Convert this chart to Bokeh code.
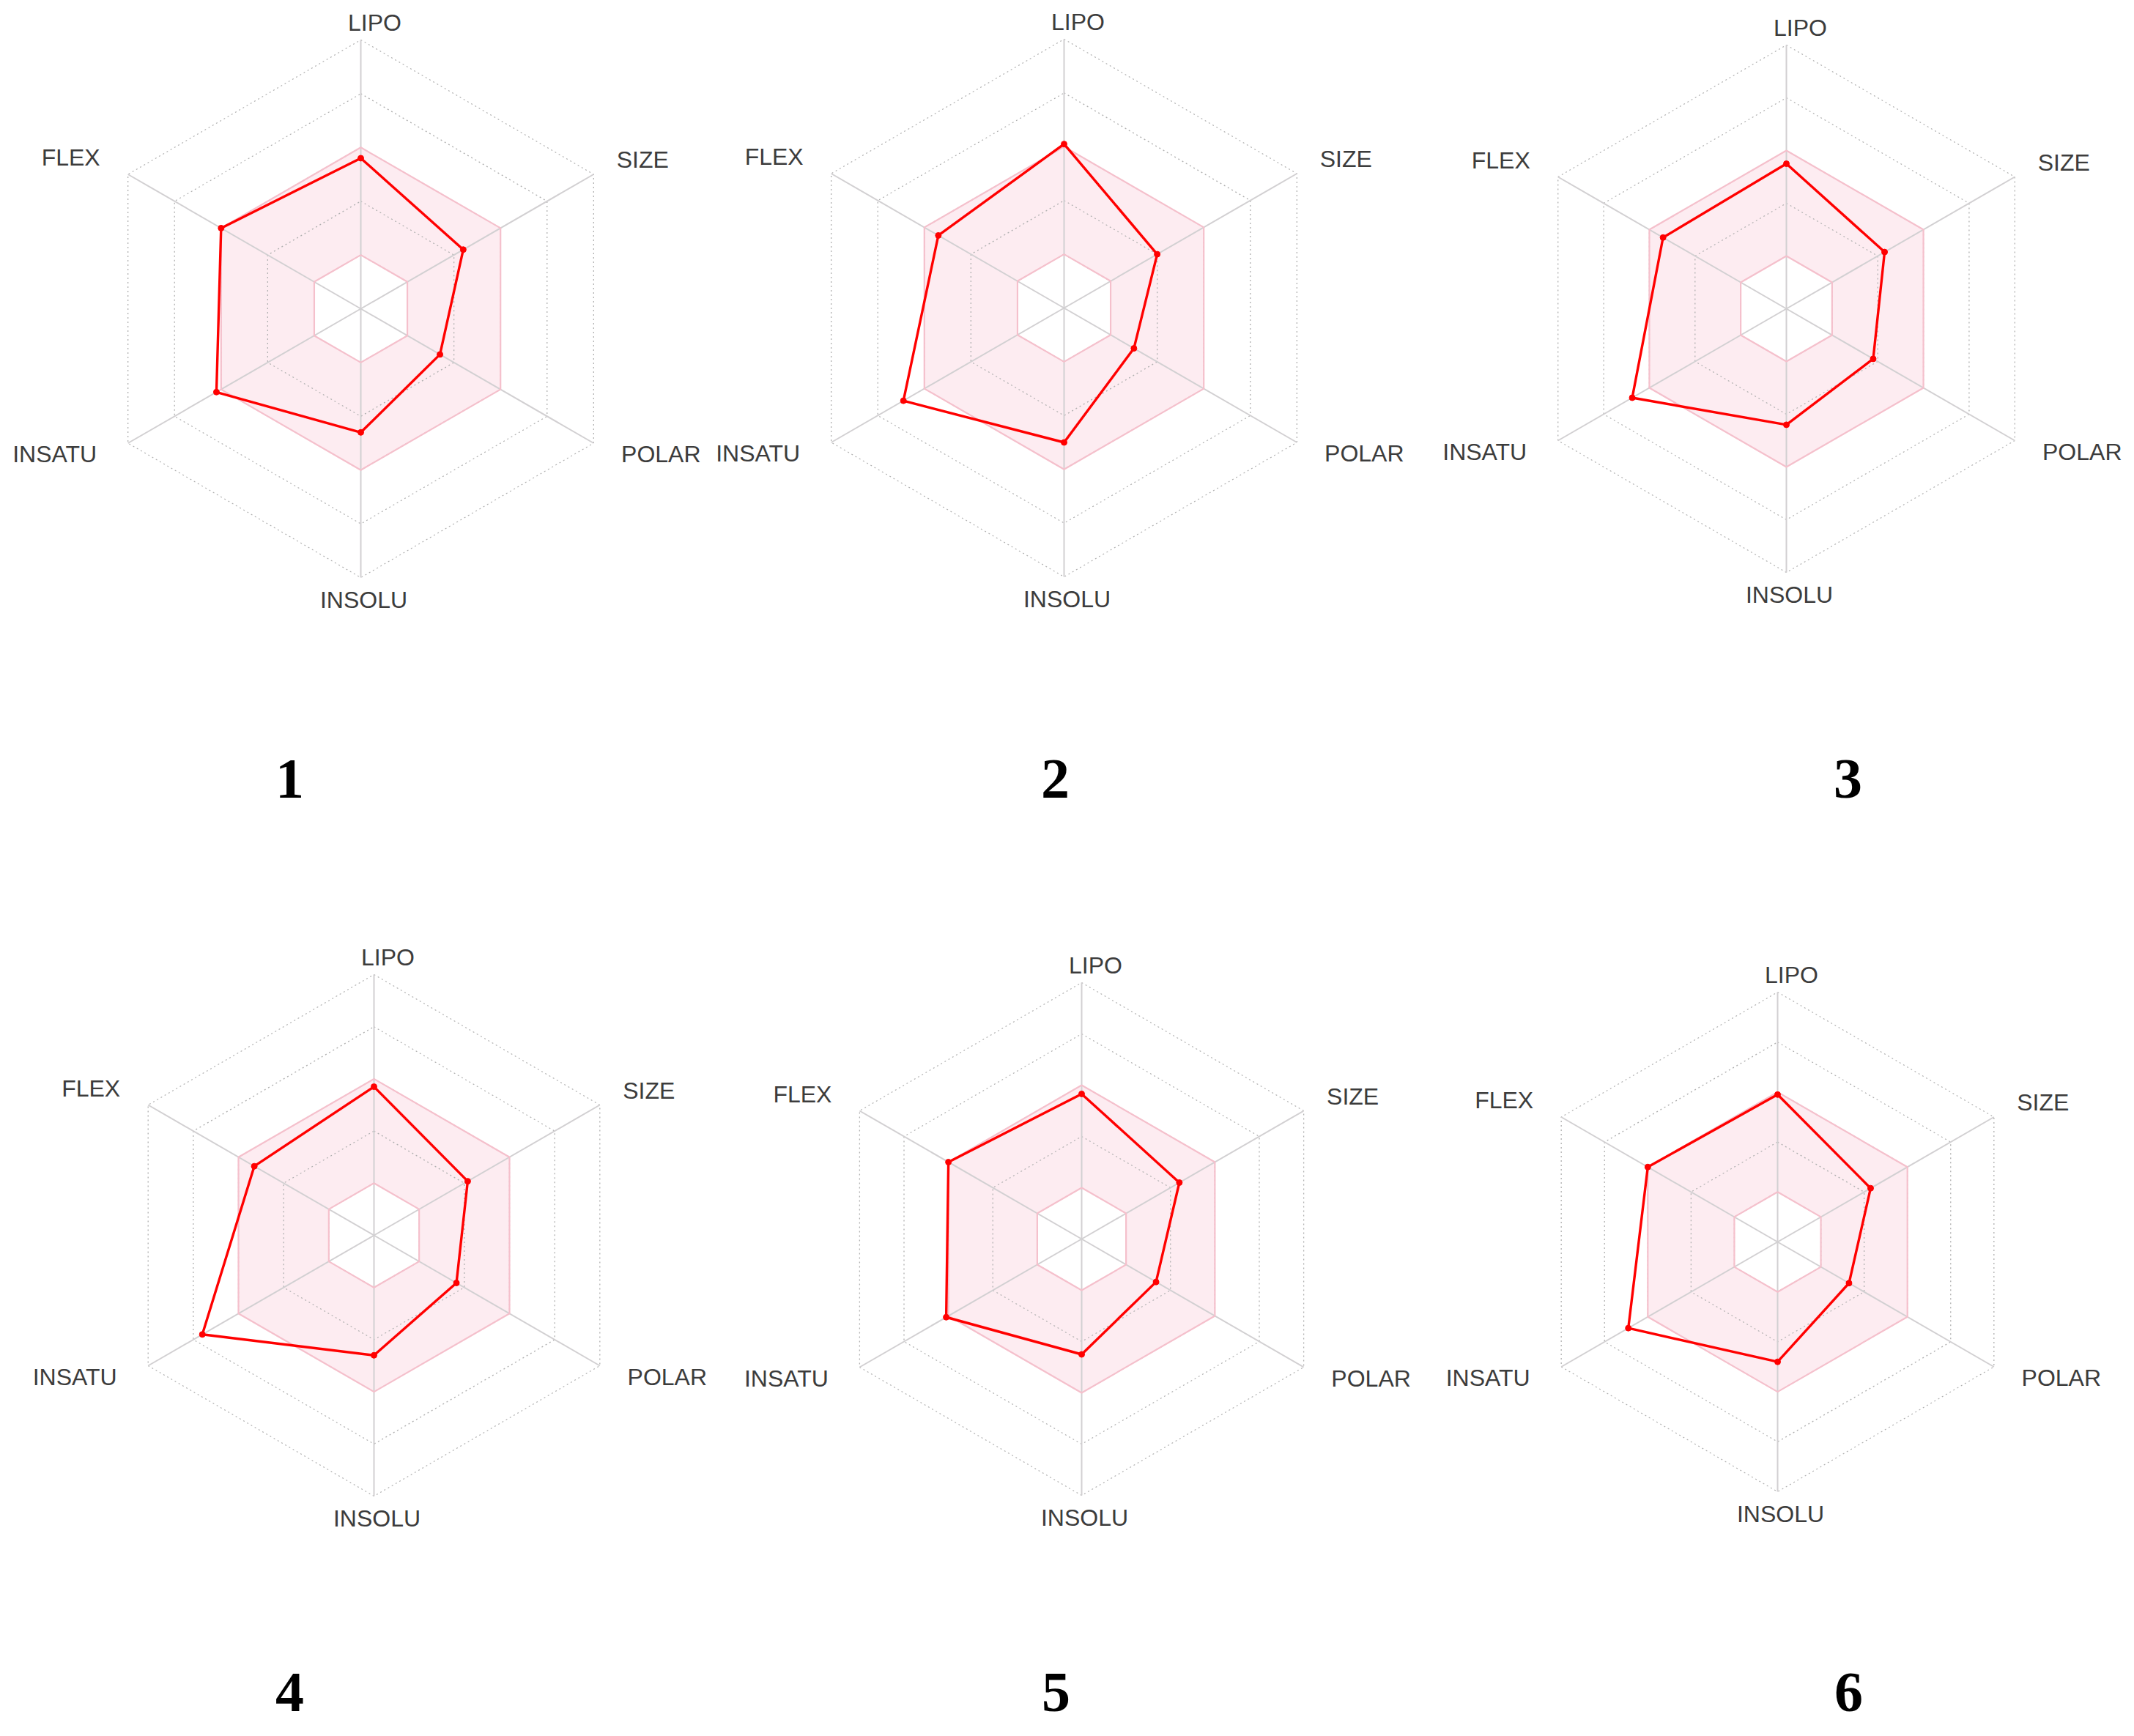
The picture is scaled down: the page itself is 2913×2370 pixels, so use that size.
import numpy as np
from bokeh.plotting import figure
from bokeh.models import Range1d
from bokeh.embed import file_html
from bokeh.resources import INLINE
from bokeh.core.properties import value

# ---------------- data ----------------
AXES = ["LIPO", "SIZE", "POLAR", "INSOLU", "INSATU", "FLEX"]
RINGS = [0.2, 0.4, 0.6, 0.8, 1.0]
OPT_LOW = 0.2      # inner edge of the pink optimal band
OPT_HIGH = 0.6     # outer edge of the pink optimal band
PANEL_LABELS = ["1", "2", "3", "4", "5", "6"]

mol1 = [0.56, 0.44, 0.34, 0.46, 0.62, 0.60]
mol2 = [0.61, 0.40, 0.30, 0.50, 0.69, 0.54]
mol3 = [0.55, 0.43, 0.38, 0.44, 0.675, 0.54]
mol4 = [0.57, 0.415, 0.365, 0.46, 0.76, 0.53]
mol5 = [0.566, 0.44, 0.335, 0.45, 0.61, 0.60]
mol6 = [0.59, 0.43, 0.33, 0.48, 0.69, 0.60]
MOLS = [mol1, mol2, mol3, mol4, mol5, mol6]

# ---------------- layout (page pixels) ----------------
W, H = 2897, 2354
PANELS = [(492, 421, 367), (1452, 420, 367), (2438, 421, 360),
          (510, 1686, 356), (1476, 1691, 350), (2426, 1695, 341)]
NUM_POS = [(395, 1063), (1440, 1063), (2522, 1063),
           (395, 2310), (1441, 2310), (2523, 2310)]
LABEL_OFF = [(19, -24), (67, -20), (92, 15), (4, 30), (-100, 15), (-78, -23)]

theta = np.deg2rad(np.arange(6) * 60.0)
SX, SY = np.sin(theta), -np.cos(theta)

p = figure(width=W, height=H, x_range=Range1d(0, W), y_range=Range1d(H, 0),
           output_backend="svg", toolbar_location=None, min_border=0)
p.axis.visible = False
p.grid.visible = False
p.outline_line_color = None
p.background_fill_color = "white"


def ring(cx, cy, R, r):
    xs = list(cx + r * R * SX) + [cx + r * R * SX[0]]
    ys = list(cy + r * R * SY) + [cy + r * R * SY[0]]
    return xs, ys


for (cx, cy, R), vals, lab, (nx, ny) in zip(PANELS, MOLS, PANEL_LABELS, NUM_POS):
    ox, oy = ring(cx, cy, R, OPT_HIGH)
    ix, iy = ring(cx, cy, R, OPT_LOW)
    p.multi_polygons(xs=[[[ox, ix]]], ys=[[[oy, iy]]], fill_color="#fdecf1",
                     fill_alpha=1.0, line_color=None)
    # rings
    for r in RINGS:
        rx, ry = ring(cx, cy, R, r)
        p.line(rx, ry, line_color="#b0b0b0", line_width=1.3, line_dash="2 4")
    # spokes
    for k in range(6):
        p.line([cx, cx + R * SX[k]], [cy, cy + R * SY[k]], line_color="#d2d0d2", line_width=2)
    # band borders
    p.line(ox, oy, line_color="#f5c0cc", line_width=2.2)
    p.line(ix, iy, line_color="#f5c0cc", line_width=2.2)
    # molecule polygon
    v = np.array(vals)
    px = list(cx + v * R * SX) + [cx + v[0] * R * SX[0]]
    py = list(cy + v * R * SY) + [cy + v[0] * R * SY[0]]
    p.line(px, py, line_color="#ff0000", line_width=3.4)
    p.scatter(px[:-1], py[:-1], size=8, fill_color="#ff0000", line_color="#ff0000")
    # axis labels
    lx = [cx + R * SX[k] + LABEL_OFF[k][0] for k in range(6)]
    ly = [cy + R * SY[k] + LABEL_OFF[k][1] for k in range(6)]
    p.text(lx, ly, text=AXES, text_font=value("Liberation Sans"), text_font_size="32px",
           text_color="#3c3c3c", text_align="center", text_baseline="middle")
    # panel number
    p.text([nx], [ny], text=[lab], text_font=value("Liberation Serif"), text_font_size="78px",
           text_font_style="bold", text_color="#000000", text_align="center",
           text_baseline="middle")

open("out.html", "w").write(file_html(p, INLINE))
